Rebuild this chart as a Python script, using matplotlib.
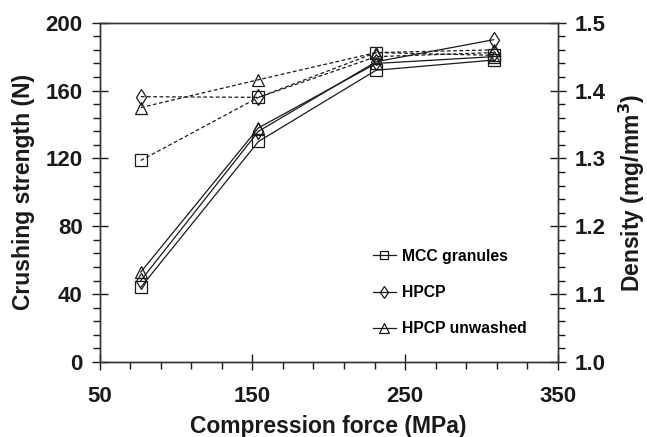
import numpy as np
import matplotlib.pyplot as plt

plt.rcParams['font.family'] = ['Liberation Sans', 'DejaVu Sans']
plt.rcParams['font.weight'] = 'bold'

force = [77, 154, 231, 308]

# crushing strength (N), left axis
mcc_strength = [44, 130, 172, 178]
hpcp_strength = [48, 136, 177, 190]
unwashed_strength = [53, 138, 176, 180]

# density (mg/mm3), right axis
mcc_density = [1.297, 1.390, 1.456, 1.452]
hpcp_density = [1.391, 1.390, 1.450, 1.456]
unwashed_density = [1.375, 1.416, 1.456, 1.460]

labels = ['MCC granules', 'HPCP', 'HPCP unwashed']
markers = ['s', 'd', '^']
msizes = [8, 8, 9]

fig = plt.figure(figsize=(6.47, 4.37), dpi=100)
ax = fig.add_axes([0.1538, 0.1716, 0.7086, 0.7764])
ax2 = ax.twinx()

col = '#1a1a1a'
strengths = [mcc_strength, hpcp_strength, unwashed_strength]
densities = [mcc_density, hpcp_density, unwashed_density]

for s, m, ms, lab in zip(strengths, markers, msizes, labels):
    ax.plot(force, s, color=col, lw=0.9, marker=m, ms=ms, mfc='none',
            mec=col, mew=0.9, label=lab)
for d, m, ms in zip(densities, markers, msizes):
    ax2.plot(force, d, color=col, lw=0.9, ls=(0, (3, 2)), marker=m, ms=ms,
             mfc='none', mec=col, mew=0.9)

ax.set_xlim(50, 350)
ax.set_ylim(0, 200)
ax2.set_ylim(1.0, 1.5)

ax.set_xticks(np.arange(50, 351, 100))
ax.set_xticks(np.arange(50, 351, 20), minor=True)
ax.set_yticks(np.arange(0, 201, 40))
ax.set_yticks(np.arange(0, 201, 8), minor=True)
ax2.set_yticks(np.arange(1.0, 1.51, 0.1))
ax2.set_yticks(np.arange(1.0, 1.501, 0.02), minor=True)
ax2.set_yticklabels([f'{v:.1f}' for v in np.arange(1.0, 1.51, 0.1)])

for a in (ax, ax2):
    a.tick_params(which='major', direction='inout', length=12, width=1,
                  labelsize=16, colors=col, pad=6)
    a.tick_params(which='minor', direction='out', length=5, width=1,
                  colors=col)
    for sp in a.spines.values():
        sp.set_color('#333333')
        sp.set_linewidth(1)
ax.tick_params(axis='x', pad=11)

ax.set_xlabel('Compression force (MPa)', fontsize=16.5, fontweight='bold',
              color=col, labelpad=6)
ax.set_ylabel('Crushing strength (N)', fontsize=16.5, fontweight='bold',
              color=col, labelpad=8)
ax2.set_ylabel('Density (mg/mm$^\\mathbf{3}$)', fontsize=16.5,
               fontweight='bold', color=col, labelpad=8)

ax.legend(loc='upper left', bbox_to_anchor=(0.565, 0.375), frameon=False,
          handlelength=1.5, labelspacing=1.35, handletextpad=0.4,
          markerscale=0.8, prop={'weight': 'bold', 'size': 11.3})

fig.savefig('out.png', dpi=100)
